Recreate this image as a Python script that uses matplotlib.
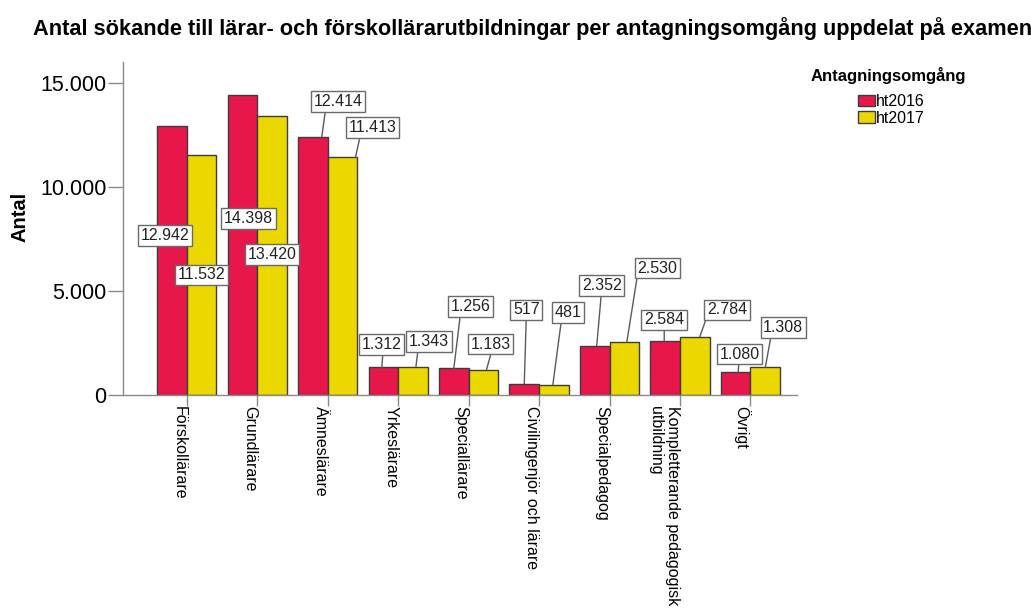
import matplotlib
matplotlib.use('Agg')
import matplotlib.pyplot as plt
from matplotlib.patches import Patch
from matplotlib.ticker import FuncFormatter
from matplotlib.transforms import offset_copy

plt.rcParams['font.family'] = ['Liberation Sans', 'DejaVu Sans']

# data
categories = ['Förskollärare', 'Grundlärare', 'Ämneslärare', 'Yrkeslärare', 'Speciallärare',
              'Civilingenjör och lärare', 'Specialpedagog', 'Kompletterande pedagogisk\nutbildning',
              'Övrigt']
ht2016 = [12942, 14398, 12414, 1312, 1256, 517, 2352, 2584, 1080]
ht2017 = [11532, 13420, 11413, 1343, 1183, 481, 2530, 2784, 1308]
series_names = ['ht2016', 'ht2017']

# value boxes: offset in pixels from the top centre of each bar
offsets16 = [(-7, -110), (6, -123), (25, 35), (-2, 23), (17, 62), (2, 74), (7, 60), (-1, 21), (4, 18)]
offsets17 = [(0, -120), (0, -139), (30, 30), (16, 25), (7, 26), (14, 72), (33, 74), (32, 27), (18, 40)]
# leader lines: (shift of the foot on the bar top in px, where it meets the box bottom as fraction)
leaders16 = [None, None, (9, 0.25), (-1.5, 0.54), (0, 0.24), (0, 0.5), (2, 0.49), (-1, 0.5), (2.5, 0.48)]
leaders17 = [None, None, (13, 0.25), (3, 0.23), (3, 0.53), (-1, 0.26), (2.5, 0.0), (5, 0.0), (0, 0.2)]

red = '#E8174B'
yellow = '#EBD800'
edge = '#3c3c3c'
grey = '#8a8a8a'


def fmt(v, pos=None):
    return '{:,.0f}'.format(v).replace(',', '.')


fig = plt.figure(figsize=(10.31, 6.09), dpi=100)
ax = fig.add_axes([123 / 1031, 1 - 394.6 / 609, 674 / 1031, 332.6 / 609])

w = 0.42
x = list(range(len(categories)))
b16 = ax.bar([i - w / 2 for i in x], ht2016, w, color=red, edgecolor=edge, linewidth=1, zorder=2)
b17 = ax.bar([i + w / 2 for i in x], ht2017, w, color=yellow, edgecolor=edge, linewidth=1, zorder=2)

box = dict(boxstyle='square,pad=0.17', facecolor='white', edgecolor='#6a6a6a', linewidth=1)
for bars, vals, offs, leads in [(b16, ht2016, offsets16, leaders16), (b17, ht2017, offsets17, leaders17)]:
    for bar, v, (dx, dy), lead in zip(bars, vals, offs, leads):
        xc = bar.get_x() + bar.get_width() / 2
        arrow = None
        foot = 0
        if lead is not None:
            foot, rx = lead
            arrow = dict(arrowstyle='-', color='#5a5a5a', lw=1, shrinkA=0, shrinkB=0,
                         relpos=(rx, 0))
        trans = offset_copy(ax.transData, fig=fig, x=foot, y=0, units='dots')
        ax.annotate(fmt(v), xy=(xc, v), xycoords=trans, xytext=(dx - foot, dy),
                    textcoords='offset pixels',
                    ha='center', va='center', fontsize=11.5, color='#222222',
                    bbox=box, arrowprops=arrow, zorder=5, annotation_clip=False)

ax.set_xlim(-0.904, 8.66)
ax.set_ylim(0, 16000)
ax.set_yticks([0, 5000, 10000, 15000])
ax.yaxis.set_major_formatter(FuncFormatter(fmt))
ax.set_xticks(x)
ax.set_xticklabels(categories, rotation=270, ha='right', va='top',
                   rotation_mode='default', fontsize=11.5, multialignment='left')

for s in ['top', 'right']:
    ax.spines[s].set_visible(False)
for s in ['left', 'bottom']:
    ax.spines[s].set_color(grey)
    ax.spines[s].set_linewidth(1)
ax.tick_params(axis='y', length=11, width=1, color=grey, labelsize=15.5, pad=1)
ax.tick_params(axis='x', length=8, width=1, color=grey, pad=0)

fig.text(20 / 1031, 1 - 217 / 609, 'Antal', rotation=90, ha='center', va='center',
         fontsize=14.5, fontweight='bold')

# title scaled to run across the top like in the original
title = fig.text(33 / 1031, 1 - 29 / 609,
                 'Antal sökande till lärar- och förskollärarutbildningar per antagningsomgång uppdelat på examen',
                 ha='left', va='center', fontsize=13, fontweight='bold')
fig.canvas.draw()
tw = title.get_window_extent().width
title.set_fontsize(13 * 994 / tw)

fig.text(811 / 1031, 1 - 75 / 609, 'Antagningsomgång', ha='left', va='center',
         fontsize=12, fontweight='bold')
handles = [Patch(facecolor=red, edgecolor=edge), Patch(facecolor=yellow, edgecolor=edge)]
fig.legend(handles, series_names, loc='upper left', bbox_to_anchor=(858 / 1031, 1 - 94 / 609),
           frameon=False, borderpad=0, borderaxespad=0, fontsize=11.5, handlelength=1.05,
           handleheight=0.75, handletextpad=0.1, labelspacing=0.12)

fig.savefig('out.png', dpi=100)
